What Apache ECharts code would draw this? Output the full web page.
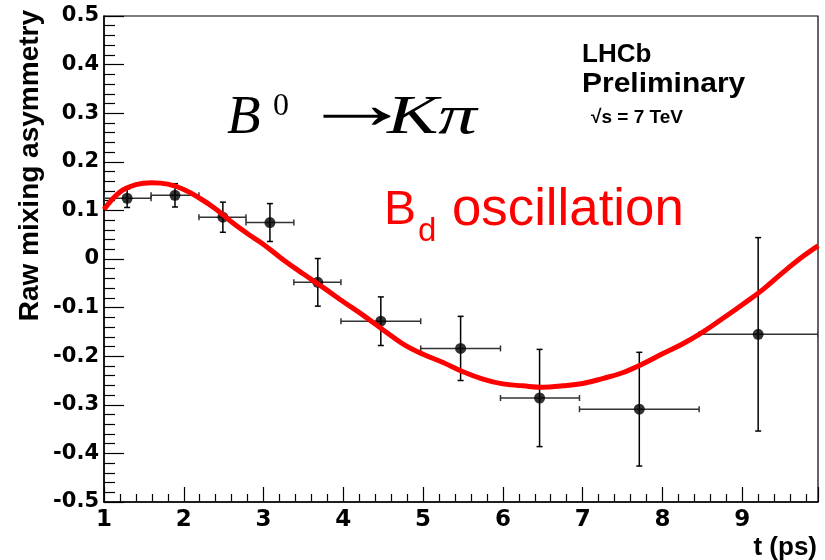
<!DOCTYPE html>
<html>
<head>
<meta charset="utf-8">
<script src="https://cdn.jsdelivr.net/npm/echarts@6/dist/echarts.min.js"></script>
<style>
html,body{margin:0;padding:0;background:#fff;}
#chart{width:825px;height:560px;}
</style>
</head>
<body>
<div id="chart"></div>
<script>
// ---- data ----
const tCenters = [1.29, 1.89, 2.49, 3.08, 3.68, 4.47, 5.47, 6.46, 7.71, 9.20];
const asym     = [0.125, 0.131, 0.086, 0.075, -0.048, -0.128, -0.184, -0.286, -0.309, -0.155];
const asymErr  = [0.019, 0.024, 0.031, 0.039, 0.049, 0.050, 0.066, 0.100, 0.117, 0.199];
const binLow   = [1.00, 1.59, 2.19, 2.78, 3.38, 3.97, 4.97, 5.97, 6.96, 8.46];
const binHigh  = [1.59, 2.19, 2.78, 3.38, 3.97, 4.97, 5.97, 6.96, 8.46, 9.95];

const curveT = [1.0, 1.2, 1.4, 1.6, 1.8, 2.0, 2.2, 2.4, 2.6, 2.8, 3.0, 3.25, 3.5, 3.75, 4.0, 4.25, 4.5, 4.75,
                5.0, 5.25, 5.5, 5.75, 6.0, 6.25, 6.5, 6.75, 7.0, 7.25, 7.5, 7.75, 8.0, 8.25, 8.5, 8.75, 9.0, 9.25, 9.5, 9.75, 9.95];
const curveV = [0.102, 0.138, 0.153, 0.157, 0.154, 0.143, 0.125, 0.103, 0.076, 0.052, 0.030, -0.002, -0.031, -0.059,
                -0.088, -0.116, -0.146, -0.175, -0.196, -0.213, -0.232, -0.247, -0.257, -0.261, -0.264, -0.261, -0.256,
                -0.246, -0.234, -0.216, -0.195, -0.175, -0.151, -0.123, -0.094, -0.064, -0.029, 0.004, 0.027];

const xTitle = 't (ps)';
const yTitle = 'Raw mixing asymmetry';

// ---- build chart ----
const chart = echarts.init(document.getElementById('chart'), null, {renderer: 'canvas'});
const FONT = 'Liberation Sans';
const TICKFONT = 'DejaVu Sans';

const pointData = tCenters.map((t, i) => [t, asym[i]]);
const errData = tCenters.map((t, i) => [t, asym[i], asymErr[i], binLow[i], binHigh[i]]);
const curveData = curveT.map((t, i) => [t, curveV[i]]);

function renderErr(params, api) {
  const x = api.value(0), y = api.value(1), e = api.value(2), lo = api.value(3), hi = api.value(4);
  const pc = api.coord([x, y]);
  const pTop = api.coord([x, y + e]);
  const pBot = api.coord([x, y - e]);
  const pL = api.coord([lo, y]);
  const pR = api.coord([hi, y]);
  const cap = 3;
  const st = {stroke: '#000', lineWidth: 1.5};
  const stH = {stroke: '#333', lineWidth: 1.5};
  return {
    type: 'group',
    children: [
      {type: 'line', shape: {x1: pc[0], y1: pTop[1], x2: pc[0], y2: pBot[1]}, style: st},
      {type: 'line', shape: {x1: pc[0] - cap, y1: pTop[1], x2: pc[0] + cap, y2: pTop[1]}, style: st},
      {type: 'line', shape: {x1: pc[0] - cap, y1: pBot[1], x2: pc[0] + cap, y2: pBot[1]}, style: st},
      {type: 'line', shape: {x1: pL[0], y1: pc[1], x2: pR[0], y2: pc[1]}, style: stH},
      {type: 'line', shape: {x1: pL[0], y1: pc[1] - cap, x2: pL[0], y2: pc[1] + cap}, style: stH},
      {type: 'line', shape: {x1: pR[0], y1: pc[1] - cap, x2: pR[0], y2: pc[1] + cap}, style: stH}
    ]
  };
}

const option = {
  backgroundColor: '#fff',
  animation: false,
  grid: {left: 104, top: 16, right: 7, bottom: 58, show: true, borderColor: '#000', borderWidth: 1.2, backgroundColor: 'transparent'},
  xAxis: {
    type: 'value', min: 1, max: 9.95, interval: 1,
    axisLine: {show: true, onZero: false, lineStyle: {color: '#000', width: 1.5}},
    axisTick: {show: true, inside: true, length: 15, lineStyle: {color: '#000', width: 1.2}},
    minorTick: {show: true, splitNumber: 5, length: 8, lineStyle: {color: '#000', width: 1.2}},
    splitLine: {show: false},
    axisLabel: {
      color: '#000', fontFamily: TICKFONT, fontWeight: 'bold', fontSize: 23, margin: 7,
      formatter: v => (Math.abs(v - Math.round(v)) < 1e-6 ? String(Math.round(v)) : '')
    }
  },
  yAxis: {
    type: 'value', min: -0.5, max: 0.5, interval: 0.1,
    axisLine: {show: true, onZero: false, lineStyle: {color: '#000', width: 1.5}},
    axisTick: {show: true, inside: true, length: 20, lineStyle: {color: '#000', width: 1.2}},
    minorTick: {show: true, splitNumber: 5, length: 11, lineStyle: {color: '#000', width: 1.2}},
    splitLine: {show: false},
    axisLabel: {
      color: '#000', fontFamily: TICKFONT, fontWeight: 'bold', fontSize: 21, margin: 5,
      formatter: v => (Math.abs(v) < 1e-9 ? '0' : v.toFixed(1))
    }
  },
  series: [
    {type: 'custom', renderItem: renderErr, data: errData, z: 2, clip: true,
     encode: {x: [0, 3, 4], y: 1}},
    {type: 'scatter', data: pointData, symbol: 'circle', symbolSize: 11, itemStyle: {color: '#000'}, z: 3},
    {type: 'line', data: curveData, smooth: 0.4, showSymbol: false, symbol: 'none', z: 4,
     lineStyle: {color: '#ff0000', width: 5}}
  ],
  graphic: [
    {type: 'text', x: 30, y: 10, rotation: Math.PI / 2,
     style: {text: yTitle, fill: '#000', font: 'bold 28px ' + FONT, align: 'right', verticalAlign: 'middle'}},
    {type: 'text', x: 817, y: 548,
     style: {text: xTitle, fill: '#000', font: 'bold 26px ' + FONT, align: 'right', verticalAlign: 'middle'}},
    {type: 'text', x: 582, y: 55,
     style: {text: 'LHCb', fill: '#000', font: 'bold 26px ' + FONT, align: 'left', verticalAlign: 'middle'}},
    {type: 'text', x: 582, y: 84, scaleX: 1.07,
     style: {text: 'Preliminary', fill: '#000', font: 'bold 28px ' + FONT, align: 'left', verticalAlign: 'middle'}},
    {type: 'text', x: 591, y: 118,
     style: {text: '\u221As = 7 TeV', fill: '#000', font: 'bold 19px ' + FONT, align: 'left', verticalAlign: 'middle'}},
    {type: 'text', x: 227, y: 119,
     style: {text: 'B', fill: '#000', font: 'italic 55px "Liberation Serif"', align: 'left', verticalAlign: 'middle'}},
    {type: 'text', x: 273, y: 107,
     style: {text: '0', fill: '#000', font: '32px "Liberation Serif"', align: 'left', verticalAlign: 'middle'}},
    {type: 'text', x: 300, y: 109, scaleX: 1.57,
     style: {text: '\u2192', fill: '#000', font: '72px "Liberation Serif"', align: 'left', verticalAlign: 'middle'}},
    {type: 'text', x: 387, y: 119, scaleX: 1.4,
     style: {text: 'K\u03C0', fill: '#000', font: 'italic 55px "Liberation Serif"', align: 'left', verticalAlign: 'middle'}},
    {type: 'text', x: 384, y: 211,
     style: {text: 'B', fill: '#ff0000', font: '48px ' + FONT, align: 'left', verticalAlign: 'middle'}},
    {type: 'text', x: 418, y: 232,
     style: {text: 'd', fill: '#ff0000', font: '33px ' + FONT, align: 'left', verticalAlign: 'middle'}},
    {type: 'text', x: 452, y: 211, scaleX: 1.035,
     style: {text: 'oscillation', fill: '#ff0000', font: '51px ' + FONT, align: 'left', verticalAlign: 'middle'}}
  ]
};
chart.setOption(option);
</script>
</body>
</html>
